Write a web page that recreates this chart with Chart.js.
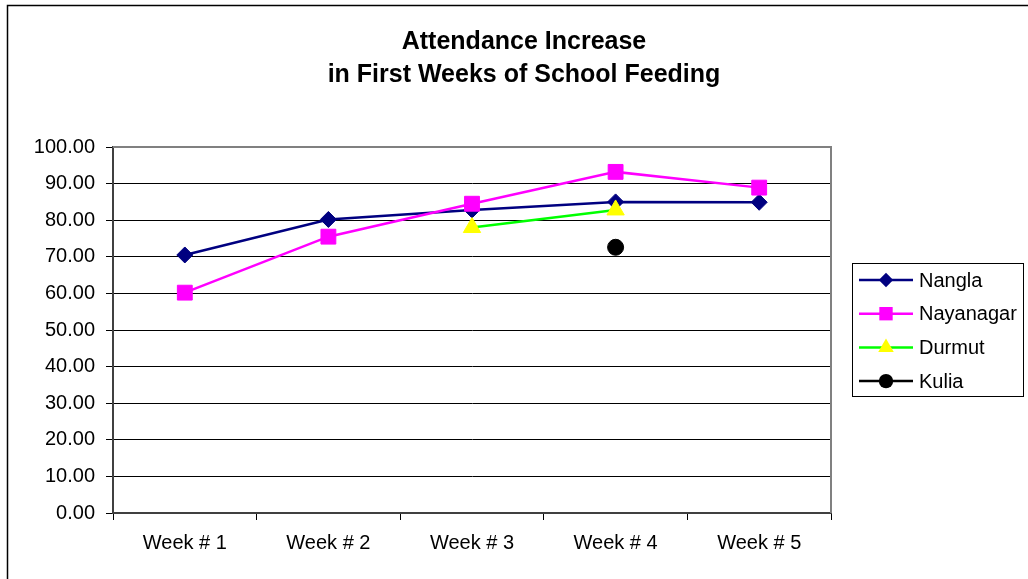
<!DOCTYPE html>
<html>
<head>
<meta charset="utf-8">
<script src="https://cdn.jsdelivr.net/npm/chart.js@4/dist/chart.umd.min.js"></script>
<style>
html,body{margin:0;padding:0;background:#fff;}
canvas{display:block;}
</style>
</head>
<body>
<canvas id="c" width="1028" height="579"></canvas>
<script>
const categories = ['Week # 1', 'Week # 2', 'Week # 3', 'Week # 4', 'Week # 5'];
const nangla = [70.5, 80.2, 82.8, 85.0, 84.9];
const nayanagar = [60.2, 75.5, 84.5, 93.2, 88.9];
const durmut = [null, null, 78.0, 82.8, null];
const kulia = [null, null, null, 72.6, null];
const yTickValues = [0, 10, 20, 30, 40, 50, 60, 70, 80, 90, 100];
const titleLines = ['Attendance Increase', 'in First Weeks of School Feeding'];

const FONT = '"Liberation Sans", Arial, sans-serif';

const framePlugin = {
  id: 'frame',
  beforeDraw(chart) {
    const ctx = chart.ctx;
    ctx.save();
    ctx.fillStyle = '#fff';
    ctx.fillRect(0, 0, chart.width, chart.height);
    ctx.restore();
  },
  afterDatasetsDraw(chart) {
    const ctx = chart.ctx;
    const a = chart.chartArea;
    ctx.save();
    ctx.strokeStyle = '#808080';
    ctx.lineWidth = 2;
    ctx.beginPath();
    ctx.moveTo(a.left, a.top);
    ctx.lineTo(a.right, a.top);
    ctx.lineTo(a.right, a.bottom);
    ctx.stroke();
    ctx.restore();
  },
  afterDraw(chart) {
    const ctx = chart.ctx;
    ctx.save();
    ctx.strokeStyle = '#000';
    ctx.lineWidth = 1.5;
    ctx.beginPath();
    ctx.moveTo(7.5, chart.height);
    ctx.lineTo(7.5, 5.5);
    ctx.lineTo(chart.width, 5.5);
    ctx.stroke();
    ctx.restore();
  }
};

function drawMarker(ctx, style, x, y, r) {
  ctx.beginPath();
  if (style === 'rectRot') {
    ctx.moveTo(x, y - r); ctx.lineTo(x + r, y); ctx.lineTo(x, y + r); ctx.lineTo(x - r, y);
    ctx.closePath();
  } else if (style === 'rect') {
    const s = Math.SQRT1_2 * r;
    ctx.rect(x - s, y - s, 2 * s, 2 * s);
  } else if (style === 'triangle') {
    ctx.moveTo(x, y - r);
    ctx.lineTo(x + Math.sin(2 * Math.PI / 3) * r, y + 0.5 * r);
    ctx.lineTo(x - Math.sin(2 * Math.PI / 3) * r, y + 0.5 * r);
    ctx.closePath();
  } else {
    ctx.arc(x, y, r, 0, Math.PI * 2);
  }
  ctx.fill();
}

const boxLegendPlugin = {
  id: 'boxLegend',
  afterDraw(chart) {
    const ctx = chart.ctx;
    ctx.save();
    ctx.strokeStyle = '#000';
    ctx.lineWidth = 1;
    ctx.strokeRect(852.5, 263.5, 171, 133);
    ctx.font = '20px ' + FONT;
    ctx.textBaseline = 'middle';
    ctx.textAlign = 'left';
    chart.data.datasets.forEach((ds, i) => {
      const y = 280 + i * 33.7;
      ctx.strokeStyle = ds.borderColor;
      ctx.lineWidth = ds.borderWidth;
      ctx.beginPath();
      ctx.moveTo(859, y);
      ctx.lineTo(913, y);
      ctx.stroke();
      ctx.fillStyle = ds.pointBackgroundColor;
      drawMarker(ctx, ds.pointStyle, 886, y, ds.pointRadius * 0.9);
      ctx.fillStyle = '#000';
      ctx.fillText(ds.label, 919, y + 1);
    });
    ctx.restore();
  }
};

function mkDs(label, data, line, fill, style, radius, order) {
  return {
    label, data, order,
    borderColor: line, backgroundColor: fill,
    borderWidth: 2.5,
    pointStyle: style, pointRadius: radius, pointHoverRadius: radius,
    pointBackgroundColor: fill, pointBorderColor: fill, pointBorderWidth: 1,
    tension: 0, spanGaps: false, fill: false
  };
}

new Chart(document.getElementById('c'), {
  type: 'line',
  data: {
    labels: categories,
    datasets: [
      mkDs('Nangla', nangla, '#000080', '#000080', 'rectRot', 8, 3),
      mkDs('Nayanagar', nayanagar, '#FF00FF', '#FF00FF', 'rect', 10.5, 2),
      mkDs('Durmut', durmut, '#00FF00', '#FFFF00', 'triangle', 10, 1),
      mkDs('Kulia', kulia, '#000000', '#000000', 'circle', 8, 0)
    ]
  },
  options: {
    responsive: false,
    animation: false,
    devicePixelRatio: 1,
    layout: { padding: { left: 20, right: 0, top: 0, bottom: 0 } },
    plugins: {
      legend: { display: false },
      tooltip: { enabled: false },
      title: {
        display: true,
        text: titleLines,
        color: '#000',
        font: { family: FONT, size: 25, weight: 'bold', lineHeight: 1.32 },
        padding: { top: 26, bottom: 55 }
      }
    },
    scales: {
      x: {
        type: 'category',
        offset: true,
        grid: { display: true, offset: true, drawOnChartArea: false, drawTicks: true, tickLength: 7, color: '#000', lineWidth: 1 },
        border: { display: true, color: '#404040', width: 2 },
        ticks: { color: '#000', font: { family: FONT, size: 20 }, padding: 11, maxRotation: 0, autoSkip: false },
        afterFit(s) { s.height = 66; }
      },
      y: {
        type: 'linear',
        min: 0, max: 100,
        afterBuildTicks(s) { s.ticks = yTickValues.map(v => ({ value: v })); },
        grid: { color: '#000', lineWidth: 1, drawTicks: true, tickLength: 7 },
        border: { display: true, color: '#404040', width: 2 },
        ticks: { color: '#000', font: { family: FONT, size: 20 }, padding: 11, callback: v => Number(v).toFixed(2) },
        afterFit(s) { s.width = 93; }
      },
      y2: {
        type: 'linear',
        position: 'right',
        display: true,
        grid: { display: false, drawTicks: false },
        border: { display: false },
        ticks: { display: false },
        afterFit(s) { s.width = 197; }
      }
    }
  },
  plugins: [framePlugin, boxLegendPlugin]
});
</script>
</body>
</html>
